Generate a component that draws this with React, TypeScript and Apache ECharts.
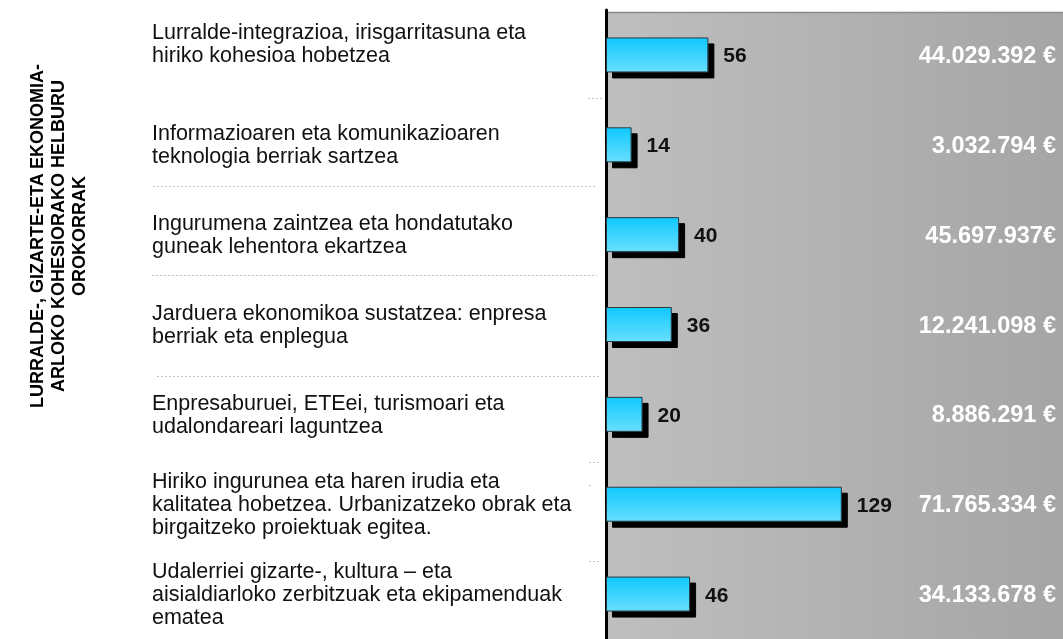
import React, { useEffect, useRef } from "react";
import * as echarts from "echarts";

const categories = [
  "Lurralde-integrazioa, irisgarritasuna eta\nhiriko kohesioa hobetzea",
  "Informazioaren eta komunikazioaren\nteknologia berriak sartzea",
  "Ingurumena zaintzea eta hondatutako\nguneak lehentora ekartzea",
  "Jarduera ekonomikoa sustatzea: enpresa\nberriak eta enplegua",
  "Enpresaburuei, ETEei, turismoari eta\nudalondareari laguntzea",
  "Hiriko ingurunea eta haren irudia eta\nkalitatea hobetzea. Urbanizatzeko obrak eta\nbirgaitzeko proiektuak egitea.",
  "Udalerriei gizarte-, kultura – eta\naisialdiarloko zerbitzuak eta ekipamenduak\nematea",
];
const counts = [56, 14, 40, 36, 20, 129, 46];
const amounts = [
  "44.029.392 €",
  "3.032.794 €",
  "45.697.937€",
  "12.241.098 €",
  "8.886.291 €",
  "71.765.334 €",
  "34.133.678 €",
];
const sideTitle =
  "LURRALDE-, GIZARTE-ETA EKONOMIA-\nARLOKO KOHESIORAKO HELBURU\nOROKORRAK";

const FONT = 'Arial, "Liberation Sans", sans-serif';

export default function App() {
  const ref = useRef<HTMLDivElement>(null);
  useEffect(() => {
    if (!ref.current) return;
    const chart = echarts.init(ref.current, undefined, { renderer: "svg" });
    const dotted = (x1: number, x2: number, y: number) => ({
      type: "line",
      z: 1,
      shape: { x1, y1: y, x2, y2: y },
      style: { stroke: "#c4c4c4", lineWidth: 1, lineDash: [2, 2] },
    });
    chart.setOption({
      animation: false,
      grid: { left: 606, right: 0, top: 10, height: 636, containLabel: false },
      xAxis: { type: "value", min: 0, max: 250, show: false },
      yAxis: [
        {
          type: "category",
          inverse: true,
          data: categories,
          axisLine: { show: true, lineStyle: { color: "#000", width: 3 } },
          axisTick: { show: false },
          splitLine: { show: false },
          axisLabel: {
            align: "left",
            margin: 454,
            color: "#111",
            fontSize: 21.5,
            lineHeight: 23,
            fontFamily: FONT,
            formatter: (v: string, i: number) => (i === 0 ? v + "\n " : v),
          },
        },
        {
          type: "category",
          inverse: true,
          position: "right",
          data: amounts,
          axisLine: { show: false },
          axisTick: { show: false },
          splitLine: { show: false },
          axisLabel: {
            inside: true,
            margin: 7,
            color: "#fff",
            fontSize: 23.5,
            fontWeight: "bold",
            fontFamily: FONT,
          },
        },
      ],
      graphic: [
        {
          type: "rect",
          z: -10,
          shape: { x: 606, y: 12, width: 457, height: 640 },
          style: {
            fill: new echarts.graphic.LinearGradient(0, 0, 1, 0, [
              { offset: 0, color: "#bfbfbf" },
              { offset: 1, color: "#a5a5a5" },
            ]),
          },
        },
        {
          type: "line",
          z: -9,
          shape: { x1: 606, y1: 12.5, x2: 1063, y2: 12.5 },
          style: { stroke: "#8a8a8a", lineWidth: 1.5 },
        },
        dotted(588, 603, 98.5),
        dotted(153, 596, 186.5),
        dotted(152, 597, 275.5),
        dotted(157, 599, 376.5),
        dotted(589, 600, 462.5),
        dotted(589, 591, 485.5),
        dotted(589, 600, 561.5),
        {
          type: "text",
          x: 58,
          y: 236,
          rotation: Math.PI / 2,
          style: {
            text: sideTitle,
            align: "center",
            verticalAlign: "middle",
            fontSize: 18,
            fontWeight: "bold",
            fontFamily: FONT,
            lineHeight: 21,
            fill: "#000",
          },
        },
      ],
      series: [
        {
          type: "bar",
          yAxisIndex: 0,
          data: counts,
          barWidth: 35,
          itemStyle: {
            color: new echarts.graphic.LinearGradient(0, 0, 0, 1, [
              { offset: 0, color: "#10c9fd" },
              { offset: 1, color: "#68defe" },
            ]),
            borderColor: "#2a3a40",
            borderWidth: 1,
            shadowColor: "#000",
            shadowBlur: 0,
            shadowOffsetX: 6,
            shadowOffsetY: 6,
          },
          label: {
            show: true,
            position: "right",
            distance: 15,
            color: "#111",
            fontSize: 21,
            fontWeight: "bold",
            fontFamily: FONT,
          },
        },
      ],
    });
    return () => chart.dispose();
  }, []);
  return (
    <div
      ref={ref}
      style={{ position: "fixed", left: 0, top: 0, width: 1063, height: 639 }}
    />
  );
}
